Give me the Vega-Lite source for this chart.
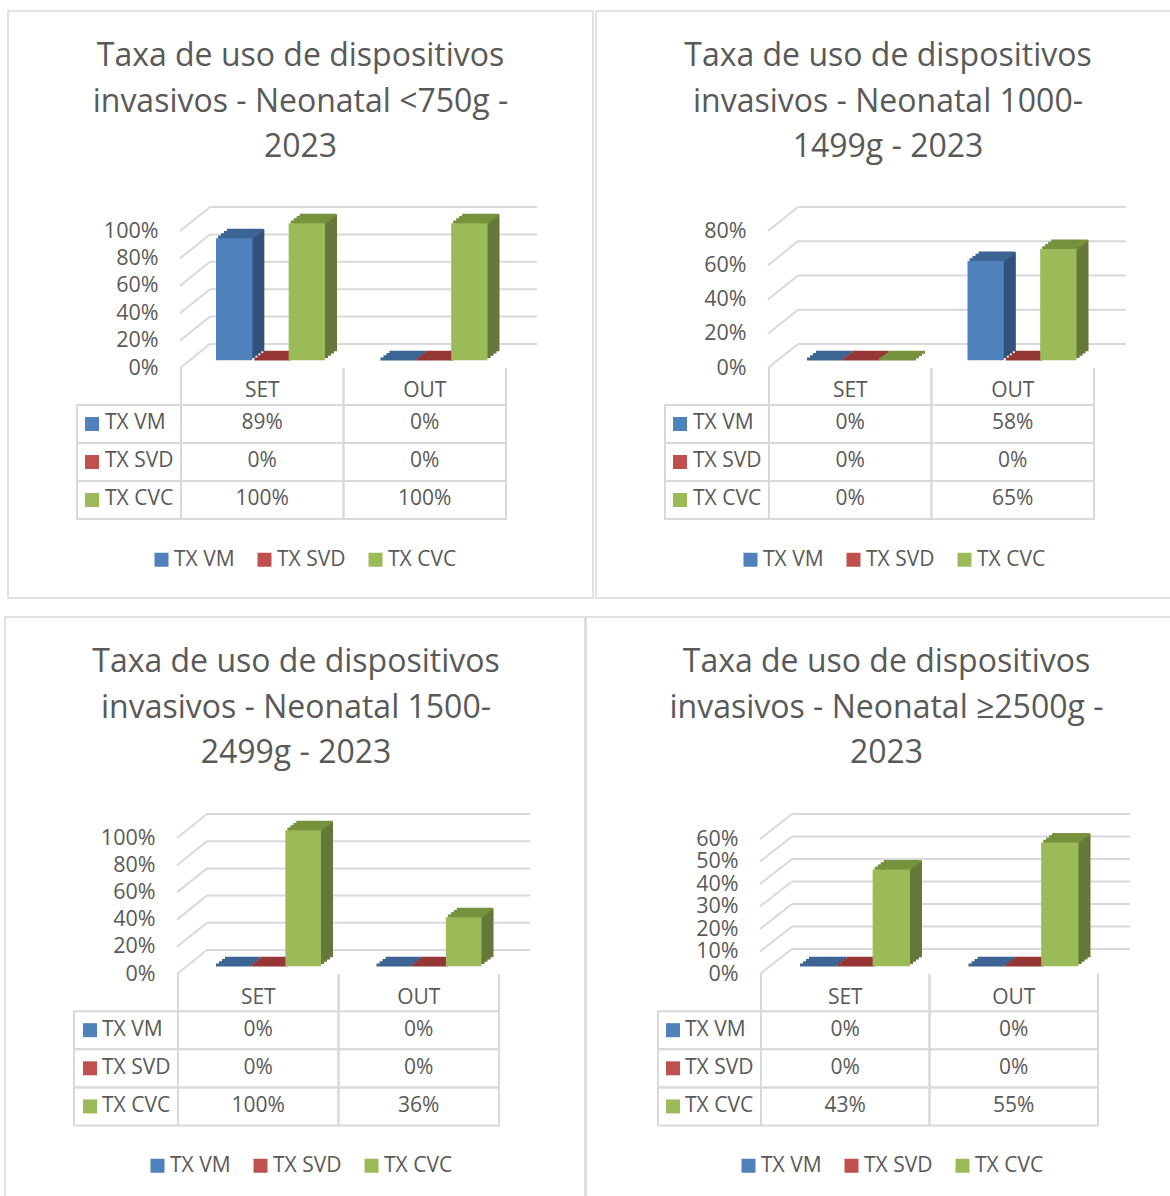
{"$schema":"https://vega.github.io/schema/vega-lite/v6.json","padding":{"left":4,"top":10,"right":0,"bottom":0},"background":"white","spacing":17,"resolve":{"scale":{"color":"independent"},"legend":{"color":"independent"}},
"datasets":{
"p1":[{"cat":"SET","series":"TX VM","v":0.89},{"cat":"SET","series":"TX SVD","v":0},{"cat":"SET","series":"TX CVC","v":1},{"cat":"OUT","series":"TX VM","v":0},{"cat":"OUT","series":"TX SVD","v":0},{"cat":"OUT","series":"TX CVC","v":1}],
"p2":[{"cat":"SET","series":"TX VM","v":0},{"cat":"SET","series":"TX SVD","v":0},{"cat":"SET","series":"TX CVC","v":0},{"cat":"OUT","series":"TX VM","v":0.58},{"cat":"OUT","series":"TX SVD","v":0},{"cat":"OUT","series":"TX CVC","v":0.65}],
"p3":[{"cat":"SET","series":"TX VM","v":0},{"cat":"SET","series":"TX SVD","v":0},{"cat":"SET","series":"TX CVC","v":1},{"cat":"OUT","series":"TX VM","v":0},{"cat":"OUT","series":"TX SVD","v":0},{"cat":"OUT","series":"TX CVC","v":0.36}],
"p4":[{"cat":"SET","series":"TX VM","v":0},{"cat":"SET","series":"TX SVD","v":0},{"cat":"SET","series":"TX CVC","v":0.43},{"cat":"OUT","series":"TX VM","v":0},{"cat":"OUT","series":"TX SVD","v":0},{"cat":"OUT","series":"TX CVC","v":0.55}],
"t100":[{"t":0},{"t":0.2},{"t":0.4},{"t":0.6},{"t":0.8},{"t":1}],
"t80":[{"t":0},{"t":0.2},{"t":0.4},{"t":0.6},{"t":0.8}],
"t60":[{"t":0},{"t":0.1},{"t":0.2},{"t":0.3},{"t":0.4},{"t":0.5},{"t":0.6}]},
"config":{"view":{"stroke":"#d9d9d9","strokeWidth":1.5},"axis":{"labelFont":"Open Sans","labelFontSize":21.5,"labelColor":"#595959","ticks":false,"domain":false,"grid":false,"labelOverlap":false,"labelBound":false,"labelFlush":false},
"legend":{"labelFont":"Open Sans","labelFontSize":21,"labelColor":"#595959","symbolType":"square","symbolSize":196,"symbolStrokeWidth":0,"columnPadding":19,"labelOffset":2},
"title":{"font":"Open Sans","fontSize":32,"fontWeight":"normal","color":"#595959","lineHeight":45.5,"anchor":"middle"},
"text":{"font":"Open Sans","fontSize":21,"fill":"#595959"}},
"vconcat":[
{"spacing":0,"resolve":{"scale":{"color":"independent"},"legend":{"color":"independent"}},"hconcat":[
{"width":2,"height":10,"view":{"stroke":null},"data":{"values":[]},"mark":{"type":"point","opacity":0},"encoding":{}},
{"width":585,"height":587,"title":{"text":["Taxa de uso de dispositivos","invasivos - Neonatal <750g -","2023"],"offset":-153},"resolve":{"scale":{"y":"independent"}},"layer":[
{"layer":[
{"data":{"name":"t100"},"encoding":{"y":{"field":"t","type":"quantitative","title":null,"scale":{"domain":[0,1],"range":[357,220]},"axis":{"values":[0,0.2,0.4,0.6,0.8,1],"format":".0%","offset":-173,"labelPadding":23}},"y2":{"field":"t"}},"layer":[
{"mark":{"type":"rule","stroke":"#d9d9d9","strokeWidth":2,"yOffset":-24,"y2Offset":-24},"encoding":{"x":{"value":202},"x2":{"value":529}}},
{"mark":{"type":"rule","stroke":"#d9d9d9","strokeWidth":2,"y2Offset":-24},"encoding":{"x":{"value":172},"x2":{"value":202}}}]},
{"data":{"name":"p1"},"resolve":{"scale":{"xOffset":"independent"}},"encoding":{"x":{"field":"cat","type":"nominal","axis":null,"scale":{"type":"band","domain":["SET","OUT"],"range":[173,498],"paddingInner":0,"paddingOuter":0}},"y":{"field":"v","type":"quantitative","title":null}},"layer":[
{"resolve":{"scale":{"xOffset":"independent"}},"layer":[
{"mark":{"type":"bar","yOffset":-16.7,"y2Offset":-16.7},"encoding":{"xOffset":{"field":"series","type":"nominal","scale":{"domain":["TX VM","TX SVD","TX CVC"],"range":[47,156],"paddingInner":0,"paddingOuter":0}}}},
{"mark":{"type":"bar","yOffset":-14.45,"y2Offset":-14.45},"encoding":{"xOffset":{"field":"series","type":"nominal","scale":{"domain":["TX VM","TX SVD","TX CVC"],"range":[44,153],"paddingInner":0,"paddingOuter":0}}}},
{"mark":{"type":"bar","yOffset":-12.2,"y2Offset":-12.2},"encoding":{"xOffset":{"field":"series","type":"nominal","scale":{"domain":["TX VM","TX SVD","TX CVC"],"range":[41,150],"paddingInner":0,"paddingOuter":0}}}},
{"mark":{"type":"bar","yOffset":-9.95,"y2Offset":-9.95},"encoding":{"xOffset":{"field":"series","type":"nominal","scale":{"domain":["TX VM","TX SVD","TX CVC"],"range":[38,147],"paddingInner":0,"paddingOuter":0}}}}],
"encoding":{"y2":{"datum":0},"fill":{"field":"series","type":"nominal","legend":null,"scale":{"domain":["TX CVC","TX SVD","TX VM"],"range":["#65783a","#7a2f2d","#31527a"]}}}},
{"resolve":{"scale":{"xOffset":"independent"}},"layer":[
{"mark":{"type":"bar","yOffset":-15.7,"y2Offset":-15.7,"strokeWidth":3},"encoding":{"xOffset":{"field":"series","type":"nominal","scale":{"domain":["TX VM","TX SVD","TX CVC"],"range":[46,155],"paddingInner":0,"paddingOuter":0}}}},
{"mark":{"type":"bar","yOffset":-13.45,"y2Offset":-13.45,"strokeWidth":3},"encoding":{"xOffset":{"field":"series","type":"nominal","scale":{"domain":["TX VM","TX SVD","TX CVC"],"range":[43,152],"paddingInner":0,"paddingOuter":0}}}},
{"mark":{"type":"bar","yOffset":-11.2,"y2Offset":-11.2,"strokeWidth":3},"encoding":{"xOffset":{"field":"series","type":"nominal","scale":{"domain":["TX VM","TX SVD","TX CVC"],"range":[40,149],"paddingInner":0,"paddingOuter":0}}}},
{"mark":{"type":"bar","yOffset":-8.95,"y2Offset":-8.95,"strokeWidth":3},"encoding":{"xOffset":{"field":"series","type":"nominal","scale":{"domain":["TX VM","TX SVD","TX CVC"],"range":[37,146],"paddingInner":0,"paddingOuter":0}}}}],
"encoding":{"y2":{"field":"v"},"stroke":{"field":"series","type":"nominal","legend":null,"scale":{"domain":["TX SVD","TX VM","TX CVC"],"range":["#953735","#3d6594","#76923c"]}}}},
{"mark":{"type":"bar","yOffset":-7.7,"y2Offset":-7.7},"encoding":{"xOffset":{"field":"series","type":"nominal","scale":{"domain":["TX VM","TX SVD","TX CVC"],"range":[35,144],"paddingInner":0,"paddingOuter":0}},"y2":{"datum":0},"color":{"field":"series","type":"nominal","scale":{"domain":["TX VM","TX SVD","TX CVC"],"range":["#4f81bd","#c0504d","#9bbb59"]}}}}]}]},
{"data":{"name":"p1"},"encoding":{"x":{"field":"cat","type":"nominal","axis":null},"y":{"field":"series","type":"nominal","axis":null,"scale":{"type":"band","domain":["hdr","TX VM","TX SVD","TX CVC"],"range":[356,508],"paddingInner":0,"paddingOuter":0}}},"layer":[
{"mark":{"type":"rect","fill":"transparent","stroke":"#d9d9d9","strokeWidth":2}},
{"transform":[{"filter":"datum.cat=='SET'"}],"mark":{"type":"rect","fill":"transparent","stroke":"#d9d9d9","strokeWidth":2},"encoding":{"x":{"value":69},"x2":{"value":173}}},
{"transform":[{"filter":"datum.series=='TX VM'"}],"mark":{"type":"rule","stroke":"#d9d9d9","strokeWidth":2},"encoding":{"x":{"field":"cat","type":"nominal","bandPosition":0},"y":{"value":357},"y2":{"value":394}}},
{"transform":[{"filter":"datum.series=='TX VM'"}],"mark":{"type":"rule","stroke":"#d9d9d9","strokeWidth":2},"encoding":{"x":{"field":"cat","type":"nominal","bandPosition":1},"y":{"value":357},"y2":{"value":394}}},
{"mark":{"type":"text","dy":-1},"encoding":{"text":{"field":"v","type":"quantitative","format":".0%"}}},
{"transform":[{"filter":"datum.series=='TX VM'"}],"mark":{"type":"text","dy":5},"encoding":{"y":{"datum":"hdr","type":"nominal"},"text":{"field":"cat","type":"nominal"}}},
{"transform":[{"filter":"datum.cat=='SET'"}],"mark":{"type":"text","align":"left","dy":-1},"encoding":{"x":{"value":97},"text":{"field":"series","type":"nominal"}}},
{"transform":[{"filter":"datum.cat=='SET'"}],"mark":{"type":"point","shape":"square","filled":true,"size":196,"opacity":1},"encoding":{"x":{"value":84},"color":{"field":"series","type":"nominal","scale":{"domain":["TX VM","TX SVD","TX CVC"],"range":["#4f81bd","#c0504d","#9bbb59"]},"legend":{"orient":"none","direction":"horizontal","title":null,"legendX":143,"legendY":538}}}}]}]},
{"width":1,"height":10,"view":{"stroke":null},"data":{"values":[]},"mark":{"type":"point","opacity":0},"encoding":{}},
{"width":575,"height":587,"title":{"text":["Taxa de uso de dispositivos","invasivos - Neonatal 1000-","1499g - 2023"],"offset":-153,"dx":4.5},"resolve":{"scale":{"y":"independent"}},"layer":[
{"layer":[
{"data":{"name":"t80"},"encoding":{"y":{"field":"t","type":"quantitative","title":null,"scale":{"domain":[0,0.8],"range":[357,220]},"axis":{"values":[0,0.2,0.4,0.6,0.8],"format":".0%","offset":-173,"labelPadding":23}},"y2":{"field":"t"}},"layer":[
{"mark":{"type":"rule","stroke":"#d9d9d9","strokeWidth":2,"yOffset":-24,"y2Offset":-24},"encoding":{"x":{"value":202},"x2":{"value":530}}},
{"mark":{"type":"rule","stroke":"#d9d9d9","strokeWidth":2,"y2Offset":-24},"encoding":{"x":{"value":172},"x2":{"value":202}}}]},
{"data":{"name":"p2"},"resolve":{"scale":{"xOffset":"independent"}},"encoding":{"x":{"field":"cat","type":"nominal","axis":null,"scale":{"type":"band","domain":["SET","OUT"],"range":[173,498],"paddingInner":0,"paddingOuter":0}},"y":{"field":"v","type":"quantitative","title":null}},"layer":[
{"resolve":{"scale":{"xOffset":"independent"}},"layer":[
{"mark":{"type":"bar","yOffset":-16.7,"y2Offset":-16.7},"encoding":{"xOffset":{"field":"series","type":"nominal","scale":{"domain":["TX VM","TX SVD","TX CVC"],"range":[48,157],"paddingInner":0,"paddingOuter":0}}}},
{"mark":{"type":"bar","yOffset":-14.45,"y2Offset":-14.45},"encoding":{"xOffset":{"field":"series","type":"nominal","scale":{"domain":["TX VM","TX SVD","TX CVC"],"range":[45,154],"paddingInner":0,"paddingOuter":0}}}},
{"mark":{"type":"bar","yOffset":-12.2,"y2Offset":-12.2},"encoding":{"xOffset":{"field":"series","type":"nominal","scale":{"domain":["TX VM","TX SVD","TX CVC"],"range":[42,151],"paddingInner":0,"paddingOuter":0}}}},
{"mark":{"type":"bar","yOffset":-9.95,"y2Offset":-9.95},"encoding":{"xOffset":{"field":"series","type":"nominal","scale":{"domain":["TX VM","TX SVD","TX CVC"],"range":[39,148],"paddingInner":0,"paddingOuter":0}}}}],
"encoding":{"y2":{"datum":0},"fill":{"field":"series","type":"nominal","legend":null,"scale":{"domain":["TX CVC","TX SVD","TX VM"],"range":["#65783a","#7a2f2d","#31527a"]}}}},
{"resolve":{"scale":{"xOffset":"independent"}},"layer":[
{"mark":{"type":"bar","yOffset":-15.7,"y2Offset":-15.7,"strokeWidth":3},"encoding":{"xOffset":{"field":"series","type":"nominal","scale":{"domain":["TX VM","TX SVD","TX CVC"],"range":[47,156],"paddingInner":0,"paddingOuter":0}}}},
{"mark":{"type":"bar","yOffset":-13.45,"y2Offset":-13.45,"strokeWidth":3},"encoding":{"xOffset":{"field":"series","type":"nominal","scale":{"domain":["TX VM","TX SVD","TX CVC"],"range":[44,153],"paddingInner":0,"paddingOuter":0}}}},
{"mark":{"type":"bar","yOffset":-11.2,"y2Offset":-11.2,"strokeWidth":3},"encoding":{"xOffset":{"field":"series","type":"nominal","scale":{"domain":["TX VM","TX SVD","TX CVC"],"range":[41,150],"paddingInner":0,"paddingOuter":0}}}},
{"mark":{"type":"bar","yOffset":-8.95,"y2Offset":-8.95,"strokeWidth":3},"encoding":{"xOffset":{"field":"series","type":"nominal","scale":{"domain":["TX VM","TX SVD","TX CVC"],"range":[38,147],"paddingInner":0,"paddingOuter":0}}}}],
"encoding":{"y2":{"field":"v"},"stroke":{"field":"series","type":"nominal","legend":null,"scale":{"domain":["TX SVD","TX VM","TX CVC"],"range":["#953735","#3d6594","#76923c"]}}}},
{"mark":{"type":"bar","yOffset":-7.7,"y2Offset":-7.7},"encoding":{"xOffset":{"field":"series","type":"nominal","scale":{"domain":["TX VM","TX SVD","TX CVC"],"range":[36,145],"paddingInner":0,"paddingOuter":0}},"y2":{"datum":0},"color":{"field":"series","type":"nominal","scale":{"domain":["TX VM","TX SVD","TX CVC"],"range":["#4f81bd","#c0504d","#9bbb59"]}}}}]}]},
{"data":{"name":"p2"},"encoding":{"x":{"field":"cat","type":"nominal","axis":null},"y":{"field":"series","type":"nominal","axis":null,"scale":{"type":"band","domain":["hdr","TX VM","TX SVD","TX CVC"],"range":[356,508],"paddingInner":0,"paddingOuter":0}}},"layer":[
{"mark":{"type":"rect","fill":"transparent","stroke":"#d9d9d9","strokeWidth":2}},
{"transform":[{"filter":"datum.cat=='SET'"}],"mark":{"type":"rect","fill":"transparent","stroke":"#d9d9d9","strokeWidth":2},"encoding":{"x":{"value":69},"x2":{"value":173}}},
{"transform":[{"filter":"datum.series=='TX VM'"}],"mark":{"type":"rule","stroke":"#d9d9d9","strokeWidth":2},"encoding":{"x":{"field":"cat","type":"nominal","bandPosition":0},"y":{"value":357},"y2":{"value":394}}},
{"transform":[{"filter":"datum.series=='TX VM'"}],"mark":{"type":"rule","stroke":"#d9d9d9","strokeWidth":2},"encoding":{"x":{"field":"cat","type":"nominal","bandPosition":1},"y":{"value":357},"y2":{"value":394}}},
{"mark":{"type":"text","dy":-1},"encoding":{"text":{"field":"v","type":"quantitative","format":".0%"}}},
{"transform":[{"filter":"datum.series=='TX VM'"}],"mark":{"type":"text","dy":5},"encoding":{"y":{"datum":"hdr","type":"nominal"},"text":{"field":"cat","type":"nominal"}}},
{"transform":[{"filter":"datum.cat=='SET'"}],"mark":{"type":"text","align":"left","dy":-1},"encoding":{"x":{"value":97},"text":{"field":"series","type":"nominal"}}},
{"transform":[{"filter":"datum.cat=='SET'"}],"mark":{"type":"point","shape":"square","filled":true,"size":196,"opacity":1},"encoding":{"x":{"value":84},"color":{"field":"series","type":"nominal","scale":{"domain":["TX VM","TX SVD","TX CVC"],"range":["#4f81bd","#c0504d","#9bbb59"]},"legend":{"orient":"none","direction":"horizontal","title":null,"legendX":144,"legendY":538}}}}]}]}
]},
{"spacing":-2,"resolve":{"scale":{"color":"independent"},"legend":{"color":"independent"}},"hconcat":[
{"width":580,"height":580,"title":{"text":["Taxa de uso de dispositivos","invasivos - Neonatal 1500-","2499g - 2023"],"offset":-153,"dx":1},"resolve":{"scale":{"y":"independent"}},"layer":[
{"layer":[
{"data":{"name":"t100"},"encoding":{"y":{"field":"t","type":"quantitative","title":null,"scale":{"domain":[0,1],"range":[357,221]},"axis":{"values":[0,0.2,0.4,0.6,0.8,1],"format":".0%","offset":-173,"labelPadding":23}},"y2":{"field":"t"}},"layer":[
{"mark":{"type":"rule","stroke":"#d9d9d9","strokeWidth":2,"yOffset":-24,"y2Offset":-24},"encoding":{"x":{"value":202},"x2":{"value":525}}},
{"mark":{"type":"rule","stroke":"#d9d9d9","strokeWidth":2,"y2Offset":-24},"encoding":{"x":{"value":172},"x2":{"value":202}}}]},
{"data":{"name":"p3"},"resolve":{"scale":{"xOffset":"independent"}},"encoding":{"x":{"field":"cat","type":"nominal","axis":null,"scale":{"type":"band","domain":["SET","OUT"],"range":[173,494],"paddingInner":0,"paddingOuter":0}},"y":{"field":"v","type":"quantitative","title":null}},"layer":[
{"resolve":{"scale":{"xOffset":"independent"}},"layer":[
{"mark":{"type":"bar","yOffset":-16.7,"y2Offset":-16.7},"encoding":{"xOffset":{"field":"series","type":"nominal","scale":{"domain":["TX VM","TX SVD","TX CVC"],"range":[48,155],"paddingInner":0,"paddingOuter":0}}}},
{"mark":{"type":"bar","yOffset":-14.45,"y2Offset":-14.45},"encoding":{"xOffset":{"field":"series","type":"nominal","scale":{"domain":["TX VM","TX SVD","TX CVC"],"range":[45,152],"paddingInner":0,"paddingOuter":0}}}},
{"mark":{"type":"bar","yOffset":-12.2,"y2Offset":-12.2},"encoding":{"xOffset":{"field":"series","type":"nominal","scale":{"domain":["TX VM","TX SVD","TX CVC"],"range":[42,149],"paddingInner":0,"paddingOuter":0}}}},
{"mark":{"type":"bar","yOffset":-9.95,"y2Offset":-9.95},"encoding":{"xOffset":{"field":"series","type":"nominal","scale":{"domain":["TX VM","TX SVD","TX CVC"],"range":[39,146],"paddingInner":0,"paddingOuter":0}}}}],
"encoding":{"y2":{"datum":0},"fill":{"field":"series","type":"nominal","legend":null,"scale":{"domain":["TX CVC","TX SVD","TX VM"],"range":["#65783a","#7a2f2d","#31527a"]}}}},
{"resolve":{"scale":{"xOffset":"independent"}},"layer":[
{"mark":{"type":"bar","yOffset":-15.7,"y2Offset":-15.7,"strokeWidth":3},"encoding":{"xOffset":{"field":"series","type":"nominal","scale":{"domain":["TX VM","TX SVD","TX CVC"],"range":[47,154],"paddingInner":0,"paddingOuter":0}}}},
{"mark":{"type":"bar","yOffset":-13.45,"y2Offset":-13.45,"strokeWidth":3},"encoding":{"xOffset":{"field":"series","type":"nominal","scale":{"domain":["TX VM","TX SVD","TX CVC"],"range":[44,151],"paddingInner":0,"paddingOuter":0}}}},
{"mark":{"type":"bar","yOffset":-11.2,"y2Offset":-11.2,"strokeWidth":3},"encoding":{"xOffset":{"field":"series","type":"nominal","scale":{"domain":["TX VM","TX SVD","TX CVC"],"range":[41,148],"paddingInner":0,"paddingOuter":0}}}},
{"mark":{"type":"bar","yOffset":-8.95,"y2Offset":-8.95,"strokeWidth":3},"encoding":{"xOffset":{"field":"series","type":"nominal","scale":{"domain":["TX VM","TX SVD","TX CVC"],"range":[38,145],"paddingInner":0,"paddingOuter":0}}}}],
"encoding":{"y2":{"field":"v"},"stroke":{"field":"series","type":"nominal","legend":null,"scale":{"domain":["TX SVD","TX VM","TX CVC"],"range":["#953735","#3d6594","#76923c"]}}}},
{"mark":{"type":"bar","yOffset":-7.7,"y2Offset":-7.7},"encoding":{"xOffset":{"field":"series","type":"nominal","scale":{"domain":["TX VM","TX SVD","TX CVC"],"range":[36,143],"paddingInner":0,"paddingOuter":0}},"y2":{"datum":0},"color":{"field":"series","type":"nominal","scale":{"domain":["TX VM","TX SVD","TX CVC"],"range":["#4f81bd","#c0504d","#9bbb59"]}}}}]}]},
{"data":{"name":"p3"},"encoding":{"x":{"field":"cat","type":"nominal","axis":null},"y":{"field":"series","type":"nominal","axis":null,"scale":{"type":"band","domain":["hdr","TX VM","TX SVD","TX CVC"],"range":[356,508.5],"paddingInner":0,"paddingOuter":0}}},"layer":[
{"mark":{"type":"rect","fill":"transparent","stroke":"#d9d9d9","strokeWidth":2}},
{"transform":[{"filter":"datum.cat=='SET'"}],"mark":{"type":"rect","fill":"transparent","stroke":"#d9d9d9","strokeWidth":2},"encoding":{"x":{"value":69},"x2":{"value":173}}},
{"transform":[{"filter":"datum.series=='TX VM'"}],"mark":{"type":"rule","stroke":"#d9d9d9","strokeWidth":2},"encoding":{"x":{"field":"cat","type":"nominal","bandPosition":0},"y":{"value":357},"y2":{"value":394}}},
{"transform":[{"filter":"datum.series=='TX VM'"}],"mark":{"type":"rule","stroke":"#d9d9d9","strokeWidth":2},"encoding":{"x":{"field":"cat","type":"nominal","bandPosition":1},"y":{"value":357},"y2":{"value":394}}},
{"mark":{"type":"text","dy":-0.5},"encoding":{"text":{"field":"v","type":"quantitative","format":".0%"}}},
{"transform":[{"filter":"datum.series=='TX VM'"}],"mark":{"type":"text","dy":6},"encoding":{"y":{"datum":"hdr","type":"nominal"},"text":{"field":"cat","type":"nominal"}}},
{"transform":[{"filter":"datum.cat=='SET'"}],"mark":{"type":"text","align":"left","dy":-0.5},"encoding":{"x":{"value":97},"text":{"field":"series","type":"nominal"}}},
{"transform":[{"filter":"datum.cat=='SET'"}],"mark":{"type":"point","shape":"square","filled":true,"size":196,"opacity":1},"encoding":{"x":{"value":85},"color":{"field":"series","type":"nominal","scale":{"domain":["TX VM","TX SVD","TX CVC"],"range":["#4f81bd","#c0504d","#9bbb59"]},"legend":{"orient":"none","direction":"horizontal","title":null,"legendX":142,"legendY":538}}}}]}]},
{"width":585,"height":580,"title":{"text":["Taxa de uso de dispositivos","invasivos - Neonatal ≥2500g -","2023"],"offset":-153,"dx":8},"resolve":{"scale":{"y":"independent"}},"layer":[
{"layer":[
{"data":{"name":"t60"},"encoding":{"y":{"field":"t","type":"quantitative","title":null,"scale":{"domain":[0,0.6],"range":[357,222]},"axis":{"values":[0,0.1,0.2,0.3,0.4,0.5,0.6],"format":".0%","offset":-175,"labelPadding":23}},"y2":{"field":"t"}},"layer":[
{"mark":{"type":"rule","stroke":"#d9d9d9","strokeWidth":2,"yOffset":-25,"y2Offset":-25},"encoding":{"x":{"value":206},"x2":{"value":544}}},
{"mark":{"type":"rule","stroke":"#d9d9d9","strokeWidth":2,"y2Offset":-25},"encoding":{"x":{"value":174},"x2":{"value":206}}}]},
{"data":{"name":"p4"},"resolve":{"scale":{"xOffset":"independent"}},"encoding":{"x":{"field":"cat","type":"nominal","axis":null,"scale":{"type":"band","domain":["SET","OUT"],"range":[175,512],"paddingInner":0,"paddingOuter":0}},"y":{"field":"v","type":"quantitative","title":null}},"layer":[
{"resolve":{"scale":{"xOffset":"independent"}},"layer":[
{"mark":{"type":"bar","yOffset":-16.7,"y2Offset":-16.7},"encoding":{"xOffset":{"field":"series","type":"nominal","scale":{"domain":["TX VM","TX SVD","TX CVC"],"range":[49,161],"paddingInner":0,"paddingOuter":0}}}},
{"mark":{"type":"bar","yOffset":-14.45,"y2Offset":-14.45},"encoding":{"xOffset":{"field":"series","type":"nominal","scale":{"domain":["TX VM","TX SVD","TX CVC"],"range":[46,158],"paddingInner":0,"paddingOuter":0}}}},
{"mark":{"type":"bar","yOffset":-12.2,"y2Offset":-12.2},"encoding":{"xOffset":{"field":"series","type":"nominal","scale":{"domain":["TX VM","TX SVD","TX CVC"],"range":[43,155],"paddingInner":0,"paddingOuter":0}}}},
{"mark":{"type":"bar","yOffset":-9.95,"y2Offset":-9.95},"encoding":{"xOffset":{"field":"series","type":"nominal","scale":{"domain":["TX VM","TX SVD","TX CVC"],"range":[40,152],"paddingInner":0,"paddingOuter":0}}}}],
"encoding":{"y2":{"datum":0},"fill":{"field":"series","type":"nominal","legend":null,"scale":{"domain":["TX CVC","TX SVD","TX VM"],"range":["#65783a","#7a2f2d","#31527a"]}}}},
{"resolve":{"scale":{"xOffset":"independent"}},"layer":[
{"mark":{"type":"bar","yOffset":-15.7,"y2Offset":-15.7,"strokeWidth":3},"encoding":{"xOffset":{"field":"series","type":"nominal","scale":{"domain":["TX VM","TX SVD","TX CVC"],"range":[48,160],"paddingInner":0,"paddingOuter":0}}}},
{"mark":{"type":"bar","yOffset":-13.45,"y2Offset":-13.45,"strokeWidth":3},"encoding":{"xOffset":{"field":"series","type":"nominal","scale":{"domain":["TX VM","TX SVD","TX CVC"],"range":[45,157],"paddingInner":0,"paddingOuter":0}}}},
{"mark":{"type":"bar","yOffset":-11.2,"y2Offset":-11.2,"strokeWidth":3},"encoding":{"xOffset":{"field":"series","type":"nominal","scale":{"domain":["TX VM","TX SVD","TX CVC"],"range":[42,154],"paddingInner":0,"paddingOuter":0}}}},
{"mark":{"type":"bar","yOffset":-8.95,"y2Offset":-8.95,"strokeWidth":3},"encoding":{"xOffset":{"field":"series","type":"nominal","scale":{"domain":["TX VM","TX SVD","TX CVC"],"range":[39,151],"paddingInner":0,"paddingOuter":0}}}}],
"encoding":{"y2":{"field":"v"},"stroke":{"field":"series","type":"nominal","legend":null,"scale":{"domain":["TX SVD","TX VM","TX CVC"],"range":["#953735","#3d6594","#76923c"]}}}},
{"mark":{"type":"bar","yOffset":-7.7,"y2Offset":-7.7},"encoding":{"xOffset":{"field":"series","type":"nominal","scale":{"domain":["TX VM","TX SVD","TX CVC"],"range":[37,149],"paddingInner":0,"paddingOuter":0}},"y2":{"datum":0},"color":{"field":"series","type":"nominal","scale":{"domain":["TX VM","TX SVD","TX CVC"],"range":["#4f81bd","#c0504d","#9bbb59"]}}}}]}]},
{"data":{"name":"p4"},"encoding":{"x":{"field":"cat","type":"nominal","axis":null},"y":{"field":"series","type":"nominal","axis":null,"scale":{"type":"band","domain":["hdr","TX VM","TX SVD","TX CVC"],"range":[356,508.5],"paddingInner":0,"paddingOuter":0}}},"layer":[
{"mark":{"type":"rect","fill":"transparent","stroke":"#d9d9d9","strokeWidth":2}},
{"transform":[{"filter":"datum.cat=='SET'"}],"mark":{"type":"rect","fill":"transparent","stroke":"#d9d9d9","strokeWidth":2},"encoding":{"x":{"value":72},"x2":{"value":175}}},
{"transform":[{"filter":"datum.series=='TX VM'"}],"mark":{"type":"rule","stroke":"#d9d9d9","strokeWidth":2},"encoding":{"x":{"field":"cat","type":"nominal","bandPosition":0},"y":{"value":357},"y2":{"value":394}}},
{"transform":[{"filter":"datum.series=='TX VM'"}],"mark":{"type":"rule","stroke":"#d9d9d9","strokeWidth":2},"encoding":{"x":{"field":"cat","type":"nominal","bandPosition":1},"y":{"value":357},"y2":{"value":394}}},
{"mark":{"type":"text","dy":-0.5},"encoding":{"text":{"field":"v","type":"quantitative","format":".0%"}}},
{"transform":[{"filter":"datum.series=='TX VM'"}],"mark":{"type":"text","dy":6},"encoding":{"y":{"datum":"hdr","type":"nominal"},"text":{"field":"cat","type":"nominal"}}},
{"transform":[{"filter":"datum.cat=='SET'"}],"mark":{"type":"text","align":"left","dy":-0.5},"encoding":{"x":{"value":99},"text":{"field":"series","type":"nominal"}}},
{"transform":[{"filter":"datum.cat=='SET'"}],"mark":{"type":"point","shape":"square","filled":true,"size":196,"opacity":1},"encoding":{"x":{"value":87},"color":{"field":"series","type":"nominal","scale":{"domain":["TX VM","TX SVD","TX CVC"],"range":["#4f81bd","#c0504d","#9bbb59"]},"legend":{"orient":"none","direction":"horizontal","title":null,"legendX":152,"legendY":538}}}}]}]}
]}
]}
